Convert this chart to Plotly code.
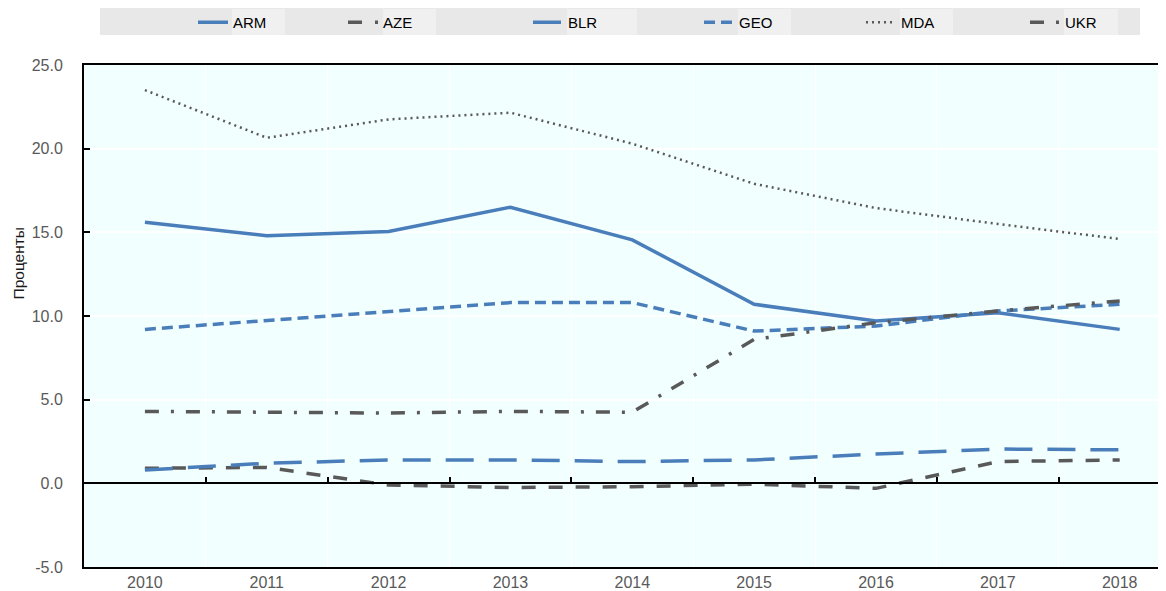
import plotly.graph_objects as go

years = ["2010", "2011", "2012", "2013", "2014", "2015", "2016", "2017", "2018"]
ARM = [15.6, 14.8, 15.05, 16.5, 14.55, 10.7, 9.7, 10.2, 9.2]
AZE = [0.9, 0.95, -0.1, -0.25, -0.2, -0.05, -0.3, 1.3, 1.4]
BLR = [0.8, 1.2, 1.4, 1.4, 1.3, 1.4, 1.75, 2.05, 2.0]
GEO = [9.2, 9.75, 10.25, 10.8, 10.8, 9.1, 9.4, 10.3, 10.7]
MDA = [23.5, 20.65, 21.75, 22.15, 20.3, 17.9, 16.45, 15.5, 14.6]
UKR = [4.3, 4.25, 4.2, 4.3, 4.25, 8.6, 9.6, 10.3, 10.9]
Y_TICKS = [-5, 0, 5, 10, 15, 20, 25]
Y_TICK_LABELS = ["-5.0", "0.0", "5.0", "10.0", "15.0", "20.0", "25.0"]
Y_TITLE = "Проценты"

BLUE = "#4a7ebb"
GRAY = "#595959"

series = [
    ("ARM", ARM, BLUE, "solid", 3.5),
    ("AZE", AZE, GRAY, "14px,13px", 3.5),
    ("BLR", BLR, BLUE, "28px,15px", 3.5),
    ("GEO", GEO, BLUE, "11px,6px", 3.5),
    ("MDA", MDA, GRAY, "2px,4px", 2.5),
    ("UKR", UKR, GRAY, "14px,12px,3px,12px", 3.5),
]

# page has an 8px body margin: figure is offset by OFF from the window corner
OFF = 8
W, H = 1166 - OFF, 591 - OFF
ML, MR, MT, MB = 84 - OFF, 0, 65 - OFF, 24
PW = W - ML - MR
PH = H - MT - MB


def px_x(p):  # page pixel -> paper x
    return (p - OFF - ML) / PW


def px_y(p):  # page pixel -> paper y
    return 1 + (MT - (p - OFF)) / PH


fig = go.Figure()
legend_text_x = [233, 383, 568, 739, 901, 1065]
legend_layout = {}
for i, (name, vals, color, dash, w) in enumerate(series):
    lname = "legend" if i == 0 else f"legend{i + 1}"
    fig.add_trace(go.Scatter(
        x=years, y=vals, name=name, mode="lines", legend=lname,
        line=dict(color=color, dash=dash, width=w),
    ))
    legend_layout[lname] = dict(
        x=px_x(legend_text_x[i] - 40), y=px_y(6), xanchor="left", yanchor="top",
        bgcolor="rgba(0,0,0,0)", font=dict(size=15, color="#000000"),
        orientation="h",
    )

fig.add_trace(go.Scatter(x=years, y=[None] * len(years), xaxis="x2",
                         showlegend=False, hoverinfo="skip"))

# legend band and label boxes (decoration)
shapes = [dict(type="rect", xref="paper", yref="paper",
               x0=px_x(100), x1=px_x(1140), y0=px_y(35), y1=px_y(7),
               fillcolor="#e8e8e8", line=dict(width=0), layer="below")]
for a, b in [(232, 285), (383, 436), (567, 637), (738, 791), (900, 953), (1064, 1118)]:
    shapes.append(dict(type="rect", xref="paper", yref="paper",
                       x0=px_x(a), x1=px_x(b), y0=px_y(35), y1=px_y(9),
                       fillcolor="#f0f0f0", line=dict(width=0), layer="below"))

y_lo, y_hi = -5, 25
fig.update_layout(
    width=W, height=H,
    margin=dict(l=ML, r=MR, t=MT, b=MB, autoexpand=False),
    paper_bgcolor="white",
    plot_bgcolor="#f2ffff",
    font=dict(family="Liberation Sans, Arial, sans-serif", color=GRAY, size=16),
    showlegend=True,
    shapes=shapes,
    annotations=[dict(
        text=Y_TITLE, textangle=-90, xref="paper", yref="paper",
        x=px_x(17.5), y=px_y(263), xanchor="center", yanchor="middle",
        showarrow=False, font=dict(size=15.5, color="#1a1a1a"),
    )],
    xaxis=dict(
        type="category", range=[-0.5, 8.38],
        showline=True, linecolor="#000000", linewidth=2, mirror=True,
        ticks="", tickson="boundaries", showgrid=True, gridcolor="#ffffff",
        gridwidth=1, tickfont=dict(size=16, color=GRAY), zeroline=False,
    ),
    xaxis2=dict(
        type="category", range=[-0.5, 8.38], overlaying="x", anchor="free",
        position=(0 - y_lo) / (y_hi - y_lo), side="bottom",
        showline=True, linecolor="#000000", linewidth=1.5,
        ticks="inside", ticklen=6, tickwidth=2, tickcolor="#000000",
        tickson="boundaries", showticklabels=False, showgrid=False,
        zeroline=False,
    ),
    yaxis=dict(
        range=[y_lo, y_hi], tickvals=Y_TICKS, ticktext=Y_TICK_LABELS,
        showline=True, linecolor="#000000", linewidth=2,
        ticks="inside", ticklen=6, tickwidth=2, tickcolor="#000000",
        ticklabelstandoff=16,
        showgrid=True, gridcolor="#ffffff", gridwidth=1.5, zeroline=False,
        tickfont=dict(size=16, color=GRAY),
    ),
    **legend_layout,
)

fig.write_html("out.html")
